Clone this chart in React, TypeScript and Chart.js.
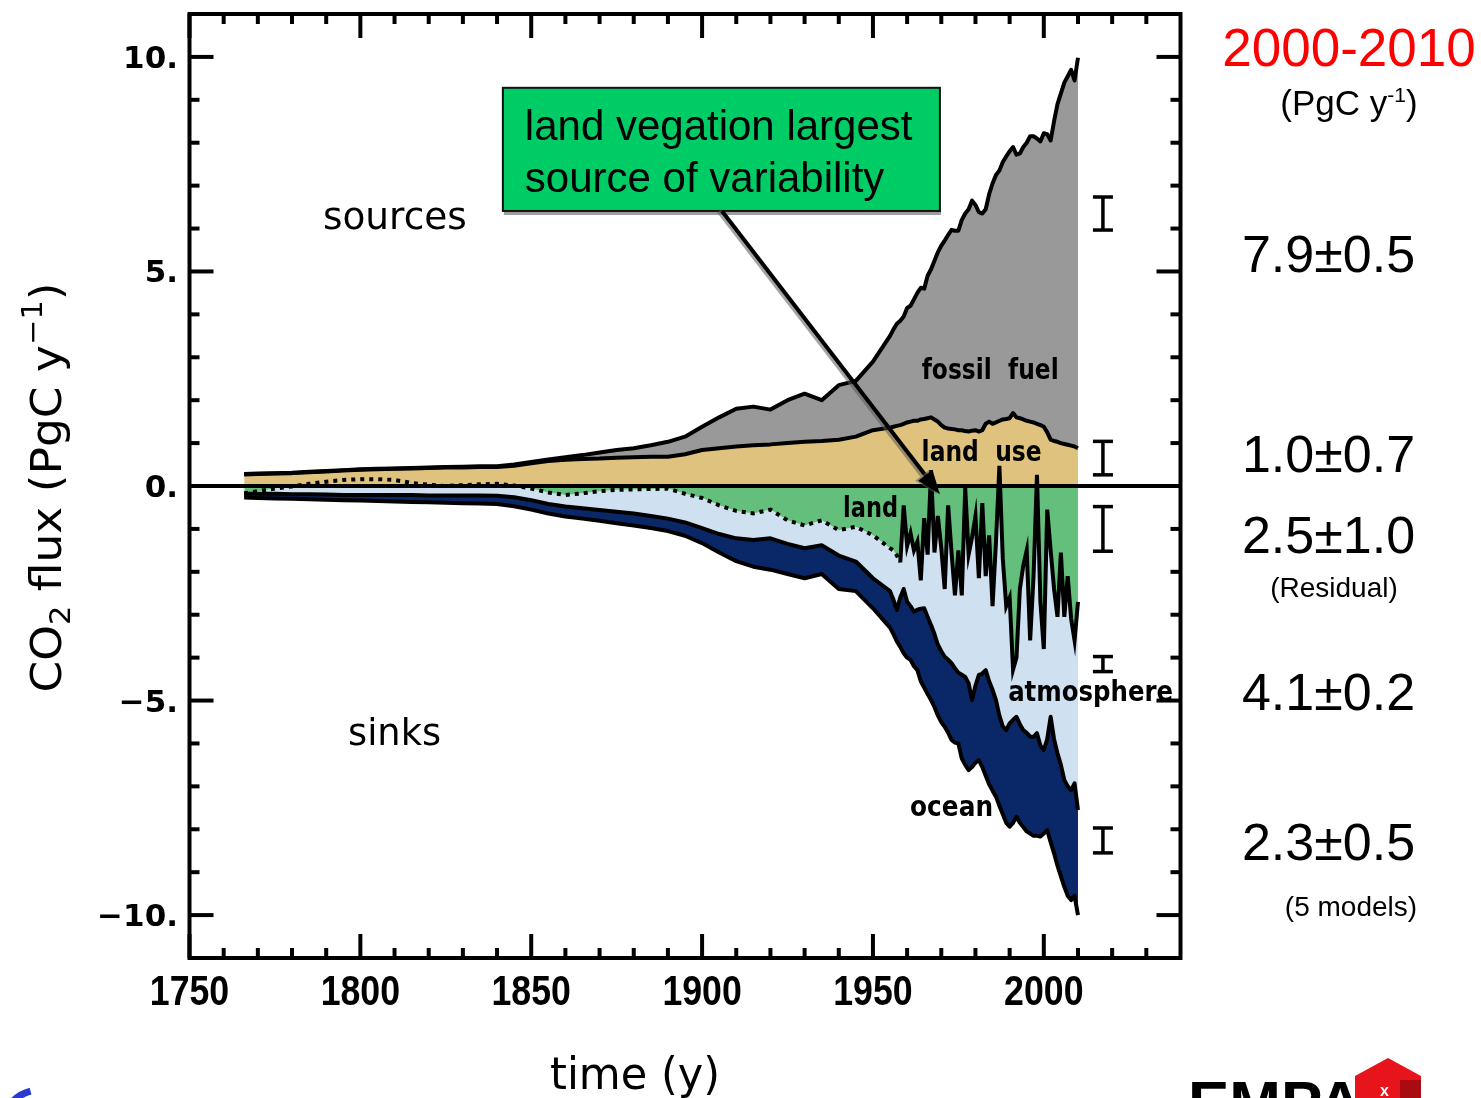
import React, { useEffect, useRef } from "react";
import { Chart, registerables } from "chart.js";

Chart.register(...registerables);

// ---------------- data (PgC per year) ----------------
const years = [
  1766, 1770, 1775, 1780, 1785, 1790, 1795, 1800, 1805, 1810, 1815, 1820, 1825, 1830, 1835, 1840, 1845, 1850, 1855,
  1860, 1865, 1870, 1875, 1880, 1885, 1890, 1895, 1900, 1905, 1910, 1915, 1920, 1925, 1930, 1935, 1940, 1945, 1950, 1955,
  1956, 1957, 1958, 1959, 1960, 1961, 1962, 1963, 1964, 1965, 1966, 1967, 1968, 1969, 1970, 1971, 1972, 1973, 1974,
  1975, 1976, 1977, 1978, 1979, 1980, 1981, 1982, 1983, 1984, 1985, 1986, 1987, 1988, 1989, 1990, 1991, 1992, 1993,
  1994, 1995, 1996, 1997, 1998, 1999, 2000, 2001, 2002, 2003, 2004, 2005, 2006, 2007, 2008, 2009, 2010,
];

// top of sources (fossil fuel + land use)
const sourcesTop = [
  0.28, 0.29, 0.3, 0.31, 0.33, 0.35, 0.37, 0.39, 0.4, 0.41, 0.42, 0.43, 0.44, 0.45, 0.46, 0.46, 0.5, 0.56, 0.62,
  0.67, 0.72, 0.78, 0.84, 0.88, 0.95, 1.03, 1.15, 1.38, 1.6, 1.8, 1.85, 1.78, 2.0, 2.15, 2.0, 2.35, 2.45, 2.9, 3.5,
  3.65, 3.78, 3.85, 3.95, 4.15, 4.2, 4.35, 4.5, 4.62, 4.6, 4.9, 5.05, 5.25, 5.45, 5.6, 5.72, 5.85, 5.97, 5.95,
  5.95, 6.2, 6.35, 6.45, 6.65, 6.55, 6.38, 6.35, 6.45, 6.8, 7.05, 7.25, 7.35, 7.55, 7.68, 7.8, 7.9, 7.72, 7.75,
  7.9, 8.0, 8.15, 8.15, 8.1, 8.03, 8.22, 8.2, 8.05, 8.5, 8.9, 9.15, 9.4, 9.55, 9.7, 9.45, 9.98,
];

// land-use change emissions
const landUseTop = [
  0.27, 0.28, 0.29, 0.3, 0.32, 0.34, 0.36, 0.38, 0.39, 0.4, 0.41, 0.42, 0.43, 0.43, 0.44, 0.44, 0.47, 0.53, 0.58,
  0.61, 0.63, 0.64, 0.66, 0.67, 0.68, 0.68, 0.74, 0.84, 0.88, 0.92, 0.95, 0.97, 1.0, 1.03, 1.05, 1.08, 1.15, 1.3, 1.36,
  1.38, 1.4, 1.42, 1.45, 1.48, 1.5, 1.52, 1.52, 1.55, 1.56, 1.58, 1.6, 1.55, 1.5, 1.42, 1.36, 1.34, 1.33, 1.32,
  1.3, 1.3, 1.28, 1.27, 1.29, 1.3, 1.27, 1.3, 1.45, 1.5, 1.45, 1.48, 1.52, 1.55, 1.56, 1.58, 1.7, 1.6, 1.58,
  1.55, 1.52, 1.5, 1.48, 1.45, 1.42, 1.38, 1.25, 1.08, 1.05, 1.03, 1.0, 0.98, 0.96, 0.94, 0.92, 0.88,
];

// land sink (residual), dotted before 1959
const landSinkLine = [
  -0.17, -0.12, -0.06, -0.01, 0.05, 0.1, 0.14, 0.16, 0.16, 0.14, 0.07, 0.03, 0.0, 0.02, 0.04, 0.05, 0.01, -0.06, -0.15,
  -0.21, -0.17, -0.12, -0.09, -0.08, -0.07, -0.06, -0.18, -0.28, -0.45, -0.58, -0.64, -0.55, -0.8, -0.92, -0.8, -1.03, -0.95, -1.15, -1.45,
  -1.5, -1.62, -1.78, -0.45, -1.4, -1.1, -1.5, -1.3, -2.2, -0.75, -1.6, 0.37, -1.55, -0.7, -1.45, -2.4, -0.45, -1.55, -2.55,
  -1.5, -2.55, -0.05, -1.6, -1.2, -0.7, -2.15, -0.4, -2.1, -1.15, -2.8, -1.3, 0.47, -1.7, -2.8, -2.6, -4.28, -4.0, -2.4,
  -1.85, -1.5, -3.6, -2.1, 0.26, -2.7, -3.8, -0.55, -1.5, -2.4, -3.05, -1.55, -3.05, -2.1, -3.1, -3.6, -2.7,
];

// land sink + atmospheric growth
const atmosphereBase = [
  -0.18, -0.18, -0.18, -0.19, -0.19, -0.2, -0.21, -0.21, -0.21, -0.21, -0.21, -0.22, -0.22, -0.22, -0.22, -0.23, -0.26, -0.33, -0.42,
  -0.48, -0.52, -0.56, -0.6, -0.64, -0.7, -0.76, -0.85, -0.98, -1.12, -1.22, -1.26, -1.22, -1.35, -1.45, -1.38, -1.62, -1.76, -2.15, -2.45,
  -2.65, -2.89, -2.6, -2.4, -2.7, -2.8, -2.93, -2.88, -2.86, -2.85, -3.05, -3.24, -3.45, -3.7, -3.85, -3.98, -4.05, -4.13, -4.25,
  -4.35, -4.4, -4.45, -4.6, -4.99, -4.65, -4.4, -4.37, -4.29, -4.55, -4.75, -4.99, -5.35, -5.6, -5.69, -5.53, -5.45, -5.38, -5.55,
  -5.69, -5.75, -5.84, -5.85, -5.76, -6.05, -6.15, -5.9, -5.38, -5.9, -6.23, -6.5, -6.85, -7.0, -7.09, -6.93, -7.55,
];

// land + atmosphere + ocean sink (total sinks)
const oceanBase = [
  -0.27, -0.28, -0.29, -0.3, -0.31, -0.32, -0.33, -0.34, -0.35, -0.36, -0.37, -0.38, -0.39, -0.4, -0.41, -0.42, -0.47, -0.55, -0.64,
  -0.71, -0.76, -0.81, -0.87, -0.92, -0.98, -1.05, -1.16, -1.33, -1.55, -1.75, -1.88, -1.95, -2.05, -2.15, -2.05, -2.4, -2.45, -2.85, -3.3,
  -3.45, -3.62, -3.75, -3.9, -4.0, -4.05, -4.2, -4.29, -4.55, -4.7, -4.85, -4.99, -5.15, -5.35, -5.5, -5.61, -5.75, -5.92, -5.98,
  -6.0, -6.35, -6.5, -6.62, -6.55, -6.45, -6.39, -6.55, -6.75, -6.95, -7.1, -7.24, -7.45, -7.65, -7.85, -7.94, -7.85, -7.71, -7.85,
  -7.95, -8.05, -8.1, -8.15, -8.15, -8.17, -8.1, -8.02, -8.3, -8.56, -8.85, -9.1, -9.34, -9.55, -9.65, -9.55, -10.0,
];

// last year drawn with the dotted (pre-observation) land line
const dottedUntil = 1958;

// axis ticks
const xMajorTicks = [1750, 1800, 1850, 1900, 1950, 2000];
const xMinorTicks = [1760, 1770, 1780, 1790, 1810, 1820, 1830, 1840, 1860, 1870, 1880, 1890, 1910, 1920, 1930, 1940, 1960, 1970, 1980, 1990, 2010, 2020, 2030];
const yMajorTicks = [-10, -5, 0, 5, 10];
const yTickLabels = ["\u221210.", "\u22125.", "0.", "5.", "10."];
const yMinorTicks = [-9, -8, -7, -6, -4, -3, -2, -1, 1, 2, 3, 4, 6, 7, 8, 9];

// 2000-2010 budget error bars (centre, half-length)
const errorCenters = [6.35, 0.65, -1.0, -4.15, -8.26];
const errorHalf = [0.385, 0.39, 0.52, 0.175, 0.29];
const errorYear = 2017.3;

// right-hand budget text
const budgetTitle = "2000-2010";
const budgetValues = ["7.9\u00b10.5", "1.0\u00b10.7", "2.5\u00b11.0", "4.1\u00b10.2", "2.3\u00b10.5"];
const budgetNotes = ["(Residual)", "(5 models)"];

// ---------------- helpers ----------------
function drawFit(ctx: CanvasRenderingContext2D, text: string, cx: number, by: number, w: number, font: string) {
  ctx.font = font;
  const m = ctx.measureText(text).width;
  ctx.save();
  ctx.translate(cx, by);
  ctx.scale(w / m, 1);
  ctx.textAlign = "center";
  ctx.textBaseline = "alphabetic";
  ctx.fillText(text, 0, 0);
  ctx.restore();
}

type Seg = { t: string; f: string; dy: number };
function drawRich(ctx: CanvasRenderingContext2D, segs: Seg[], cx: number, by: number, targetW?: number) {
  let total = 0;
  const ws: number[] = [];
  for (const s of segs) {
    ctx.font = s.f;
    const w = ctx.measureText(s.t).width;
    ws.push(w);
    total += w;
  }
  ctx.save();
  ctx.translate(cx, by);
  if (targetW) ctx.scale(targetW / total, 1);
  ctx.textAlign = "left";
  ctx.textBaseline = "alphabetic";
  let x0 = -total / 2;
  segs.forEach((s, i) => {
    ctx.font = s.f;
    ctx.fillText(s.t, x0, s.dy);
    x0 += ws[i];
  });
  ctx.restore();
}

const decorPlugin = {
  id: "decor",
  beforeDraw(chart: any) {
    const ctx = chart.ctx as CanvasRenderingContext2D;
    ctx.save();
    ctx.fillStyle = "#ffffff";
    ctx.fillRect(0, 0, chart.width, chart.height);
    ctx.restore();
  },
  afterDraw(chart: any) {
    const ctx = chart.ctx as CanvasRenderingContext2D;
    const a = chart.chartArea;
    const xs = chart.scales.x;
    const ys = chart.scales.y;
    const px = (v: number) => xs.getPixelForValue(v);
    const py = (v: number) => ys.getPixelForValue(v);
    ctx.save();
    ctx.strokeStyle = "#000";
    ctx.fillStyle = "#000";
    ctx.lineCap = "butt";

    // zero line
    ctx.lineWidth = 4;
    ctx.beginPath();
    ctx.moveTo(a.left, py(0));
    ctx.lineTo(a.right, py(0));
    ctx.stroke();

    // frame
    ctx.strokeRect(a.left, a.top, a.right - a.left, a.bottom - a.top);

    const seg = (x1: number, y1: number, x2: number, y2: number) => {
      ctx.beginPath();
      ctx.moveTo(x1, y1);
      ctx.lineTo(x2, y2);
      ctx.stroke();
    };
    ctx.lineWidth = 4;
    for (const v of xMajorTicks) {
      const X = px(v);
      seg(X, a.top, X, a.top + 24);
      seg(X, a.bottom, X, a.bottom - 24);
    }
    for (const v of xMinorTicks) {
      const X = px(v);
      seg(X, a.top, X, a.top + 10);
      seg(X, a.bottom, X, a.bottom - 10);
    }
    for (const v of yMajorTicks) {
      const Y = py(v);
      seg(a.left, Y, a.left + 24, Y);
      seg(a.right, Y, a.right - 24, Y);
    }
    for (const v of yMinorTicks) {
      const Y = py(v);
      seg(a.left, Y, a.left + 10, Y);
      seg(a.right, Y, a.right - 10, Y);
    }

    // y tick labels
    ctx.font = 'bold 31px "DejaVu Sans"';
    ctx.textAlign = "right";
    ctx.textBaseline = "alphabetic";
    yMajorTicks.forEach((v, i) => {
      ctx.fillText(yTickLabels[i], 178, py(v) + 11);
    });

    // x tick labels (condensed)
    ctx.font = 'bold 42px "Liberation Sans"';
    ctx.textAlign = "center";
    for (const v of xMajorTicks) {
      ctx.save();
      ctx.translate(px(v), 1005);
      ctx.scale(0.85, 1);
      ctx.fillText(String(v), 0, 0);
      ctx.restore();
    }

    // axis titles
    drawFit(ctx, "time (y)", 635, 1089, 170, '44px "DejaVu Sans"');
    ctx.save();
    ctx.translate(61, 487.5);
    ctx.rotate(-Math.PI / 2);
    drawRich(
      ctx,
      [
        { t: "CO", f: '42px "DejaVu Sans"', dy: 0 },
        { t: "2", f: '28px "DejaVu Sans"', dy: 9 },
        { t: " flux (PgC y", f: '42px "DejaVu Sans"', dy: 0 },
        { t: "\u22121", f: '28px "DejaVu Sans"', dy: -19 },
        { t: ")", f: '42px "DejaVu Sans"', dy: 0 },
      ],
      0,
      0,
      410
    );
    ctx.restore();

    // region labels
    ctx.fillStyle = "#000";
    drawFit(ctx, "sources", px(1810.1), py(5.99), 144, '38px "DejaVu Sans"');
    drawFit(ctx, "sinks", px(1810.0), py(-6.04), 93, '38px "DejaVu Sans"');
    drawFit(ctx, "fossil  fuel", px(1984.3), py(2.49), 137, 'bold 29px "DejaVu Sans"');
    drawFit(ctx, "land  use", px(1981.8), py(0.58), 120, 'bold 29px "DejaVu Sans"');
    drawFit(ctx, "land", px(1949.3), py(-0.72), 55, 'bold 29px "DejaVu Sans"');
    drawFit(ctx, "atmosphere", px(2013.7), py(-5.01), 165, 'bold 29px "DejaVu Sans"');
    drawFit(ctx, "ocean", px(1973.0), py(-7.69), 83, 'bold 29px "DejaVu Sans"');

    // error bars
    ctx.lineWidth = 3.5;
    const ex = px(errorYear);
    errorCenters.forEach((c, i) => {
      const t = py(c + errorHalf[i]);
      const b = py(c - errorHalf[i]);
      seg(ex, t, ex, b);
      seg(ex - 10, t, ex + 10, t);
      seg(ex - 10, b, ex + 10, b);
    });

    // annotation box
    const bx1 = px(1841.7), bx2 = px(1969.6), by1 = py(9.28), by2 = py(6.41);
    ctx.fillStyle = "#9c9c9c";
    ctx.fillRect(bx1 + 1, by2, bx2 - bx1, 4);
    ctx.fillStyle = "#00cc66";
    ctx.fillRect(bx1, by1, bx2 - bx1, by2 - by1);
    ctx.lineWidth = 2;
    ctx.strokeStyle = "#111";
    ctx.strokeRect(bx1, by1, bx2 - bx1, by2 - by1);
    ctx.fillStyle = "#000";
    ctx.font = '42px "Liberation Sans"';
    ctx.textAlign = "left";
    ctx.fillText("land vegation largest", bx1 + 22, by1 + 52);
    ctx.fillText("source of variability", bx1 + 22, by1 + 104);

    // arrow
    const ax1 = px(1905.8), ay1 = py(6.41), ax2 = px(1969.6), ay2 = py(-0.19);
    const dx = ax2 - ax1, dyv = ay2 - ay1;
    const L = Math.hypot(dx, dyv);
    const ux = dx / L, uy = dyv / L;
    const nx = -uy, ny = ux;
    const hl = 24, hw = 9;
    const hbx = ax2 - ux * hl, hby = ay2 - uy * hl;
    ctx.strokeStyle = "rgba(90,90,90,0.55)";
    ctx.lineWidth = 5;
    seg(ax1 - 3, ay1, hbx - 3, hby);
    ctx.strokeStyle = "#000";
    ctx.lineWidth = 4;
    seg(ax1, ay1, hbx + ux * 4, hby + uy * 4);
    ctx.fillStyle = "rgba(90,90,90,0.55)";
    ctx.beginPath();
    ctx.moveTo(ax2 - 3, ay2);
    ctx.lineTo(hbx + nx * hw - 3, hby + ny * hw);
    ctx.lineTo(hbx - nx * hw - 3, hby - ny * hw);
    ctx.closePath();
    ctx.fill();
    ctx.fillStyle = "#000";
    ctx.beginPath();
    ctx.moveTo(ax2, ay2);
    ctx.lineTo(hbx + nx * hw, hby + ny * hw);
    ctx.lineTo(hbx - nx * hw, hby - ny * hw);
    ctx.closePath();
    ctx.fill();

    // right-hand budget
    ctx.fillStyle = "#ff0000";
    ctx.textAlign = "center";
    ctx.font = '53px "Liberation Sans"';
    ctx.fillText(budgetTitle, 1349, 66);
    ctx.fillStyle = "#000";
    drawRich(
      ctx,
      [
        { t: "(PgC y", f: '35px "Liberation Sans"', dy: 0 },
        { t: "-1", f: '21px "Liberation Sans"', dy: -13 },
        { t: ")", f: '35px "Liberation Sans"', dy: 0 },
      ],
      1349,
      115
    );
    ctx.font = '52px "Liberation Sans"';
    ctx.textAlign = "center";
    const valueBaselines = [272, 472, 553, 710, 860];
    budgetValues.forEach((t, i) => ctx.fillText(t, 1328.5, valueBaselines[i]));
    ctx.font = '28px "Liberation Sans"';
    ctx.fillText(budgetNotes[0], 1334, 597);
    ctx.fillText(budgetNotes[1], 1351, 916);

    // logos (partially cut at the bottom edge)
    ctx.fillStyle = "#000";
    ctx.textAlign = "left";
    ctx.font = 'bold 62px "Liberation Sans"';
    ctx.fillText("EMPA", 1188, 1124);
    ctx.fillStyle = "#e8141b";
    ctx.beginPath();
    ctx.moveTo(1388, 1058);
    ctx.lineTo(1421, 1076);
    ctx.lineTo(1421, 1098);
    ctx.lineTo(1355, 1098);
    ctx.lineTo(1355, 1076);
    ctx.closePath();
    ctx.fill();
    ctx.fillStyle = "#a80c10";
    ctx.fillRect(1400, 1080, 21, 18);
    ctx.fillStyle = "#ffffff";
    ctx.font = 'bold 16px "Liberation Sans"';
    ctx.fillText("x", 1380, 1096);
    ctx.strokeStyle = "#2b3bd0";
    ctx.lineWidth = 7;
    ctx.beginPath();
    ctx.arc(40, 1128, 38, Math.PI * 1.0, Math.PI * 1.42);
    ctx.stroke();

    ctx.restore();
  },
};

export default function App() {
  const ref = useRef<HTMLCanvasElement>(null);
  useEffect(() => {
    if (!ref.current) return;
    const mk = (arr: number[]) => years.map((x, i) => ({ x, y: arr[i] }));
    const landPts = mk(landSinkLine);
    const base = {
      borderColor: "#000",
      borderWidth: 4,
      pointRadius: 0,
      tension: 0,
      borderJoinStyle: "round" as const,
    };
    const chart = new Chart(ref.current, {
      type: "line",
      data: {
        datasets: [
          { ...base, label: "land use", data: mk(landUseTop), backgroundColor: "#dfc27d", fill: "origin" },
          { ...base, label: "fossil fuel", data: mk(sourcesTop), backgroundColor: "#999999", fill: "-1" },
          {
            ...base,
            label: "land",
            data: landPts,
            borderWidth: 0,
            fill: { target: "origin", above: "rgba(0,0,0,0)", below: "#65bf7c" },
          },
          { ...base, label: "atmosphere", data: mk(atmosphereBase), backgroundColor: "#cfe0f1", fill: "-1" },
          { ...base, label: "ocean", data: mk(oceanBase), backgroundColor: "#0a2767", fill: "-1" },
          {
            ...base,
            label: "land (model period)",
            data: landPts.filter((p) => p.x <= dottedUntil),
            borderDash: [4, 5],
            borderJoinStyle: "miter" as const,
            fill: false,
          },
          {
            ...base,
            label: "land (residual)",
            data: landPts.filter((p) => p.x >= dottedUntil),
            borderJoinStyle: "miter" as const,
            fill: false,
          },
        ],
      },
      options: {
        responsive: false,
        animation: false,
        layout: { padding: { left: 189.5, right: 300.5, top: 14, bottom: 140 } },
        plugins: {
          legend: { display: false },
          tooltip: { enabled: false },
          filler: { drawTime: "beforeDatasetsDraw" },
        } as any,
        scales: {
          x: { type: "linear", min: 1750, max: 2040, display: false },
          y: { type: "linear", min: -11, max: 11, display: false },
        },
      },
      plugins: [decorPlugin as any],
    } as any);
    return () => chart.destroy();
  }, []);
  return (
    <div style={{ position: "absolute", left: 0, top: 0, width: 1481, height: 1098, background: "#fff", overflow: "hidden" }}>
      <canvas ref={ref} width={1481} height={1098} style={{ display: "block", width: 1481, height: 1098 }} />
    </div>
  );
}
